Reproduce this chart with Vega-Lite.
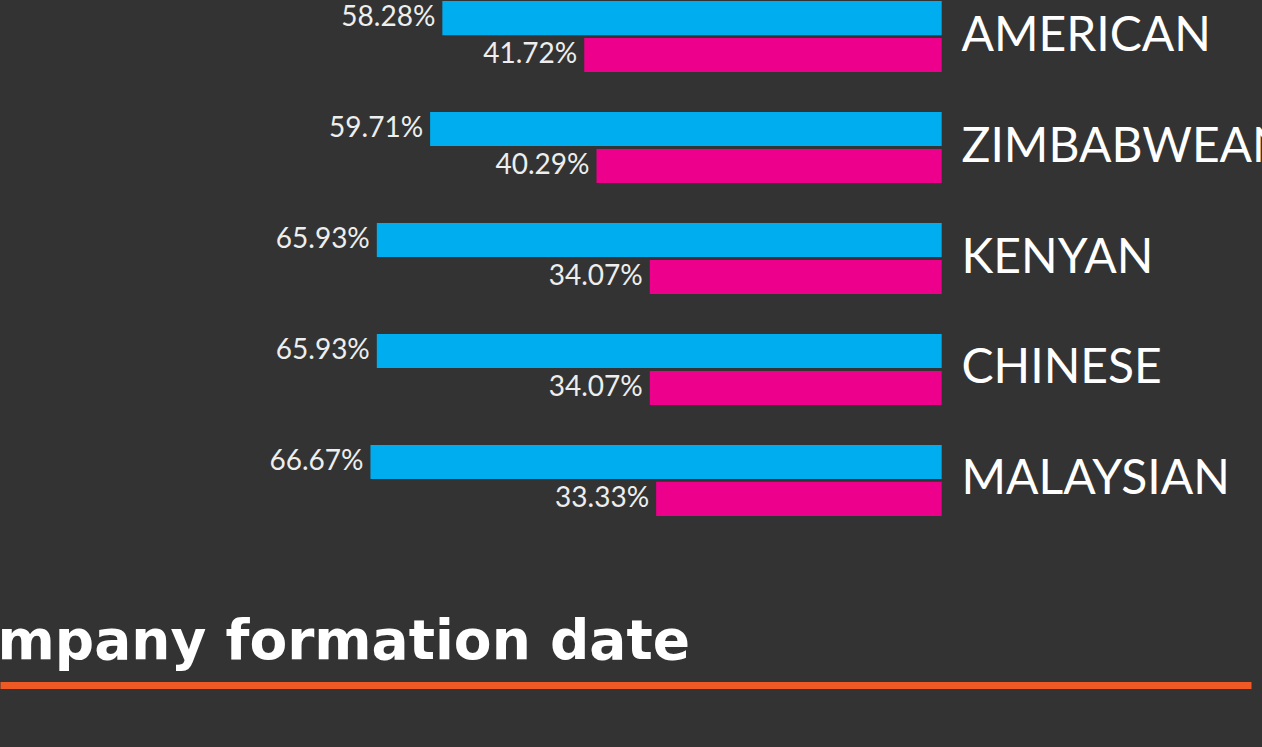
{
  "$schema": "https://vega.github.io/schema/vega-lite/v6.json",
  "autosize": "none",
  "padding": {"left": 0, "top": 0, "right": 11, "bottom": 230},
  "width": 1251,
  "height": 517,
  "background": "#333333",
  "config": {"view": {"stroke": null}},
  "data": {
    "values": [
      {"nationality": "AMERICAN", "series": "A", "value": 0.5828},
      {"nationality": "AMERICAN", "series": "B", "value": 0.4172},
      {"nationality": "ZIMBABWEAN", "series": "A", "value": 0.5971},
      {"nationality": "ZIMBABWEAN", "series": "B", "value": 0.4029},
      {"nationality": "KENYAN", "series": "A", "value": 0.6593},
      {"nationality": "KENYAN", "series": "B", "value": 0.3407},
      {"nationality": "CHINESE", "series": "A", "value": 0.6593},
      {"nationality": "CHINESE", "series": "B", "value": 0.3407},
      {"nationality": "MALAYSIAN", "series": "A", "value": 0.6667},
      {"nationality": "MALAYSIAN", "series": "B", "value": 0.3333}
    ]
  },
  "encoding": {
    "y": {
      "field": "nationality",
      "type": "nominal",
      "sort": null,
      "scale": {"paddingInner": 0.36, "paddingOuter": 0.01},
      "axis": {
        "orient": "right",
        "offset": -309,
        "domain": false,
        "ticks": false,
        "title": null,
        "labelPadding": 19,
        "labelFont": "Lato",
        "labelFontSize": 48,
        "labelColor": "#FFFFFF",
        "labelAlign": "left",
        "labelBaseline": "middle",
        "labelLimit": 0
      }
    },
    "yOffset": {
      "field": "series",
      "type": "nominal",
      "sort": ["A", "B"],
      "scale": {"paddingInner": 0.08, "paddingOuter": 0}
    },
    "x": {
      "field": "value",
      "type": "quantitative",
      "scale": {"domain": [-0.361, 1.0991], "reverse": true, "nice": false, "zero": true},
      "axis": {
        "orient": "bottom",
        "offset": 168,
        "domain": true,
        "domainColor": "#EF5A24",
        "domainWidth": 7,
        "ticks": false,
        "labels": false,
        "grid": false,
        "title": "mpany formation date",
        "titleX": -3,
        "titleY": -27,
        "titleAlign": "left",
        "titleAnchor": "start",
        "titleBaseline": "alphabetic",
        "titleAngle": 0,
        "titleFont": "DejaVu Sans",
        "titleFontSize": 55,
        "titleFontWeight": "bold",
        "titleColor": "#FFFFFF"
      }
    }
  },
  "layer": [
    {
      "mark": {"type": "bar"},
      "encoding": {
        "color": {
          "field": "series",
          "type": "nominal",
          "scale": {"domain": ["A", "B"], "range": ["#00AEEF", "#EC008C"]},
          "legend": null
        }
      }
    },
    {
      "mark": {
        "type": "text",
        "align": "right",
        "baseline": "middle",
        "dx": -7,
        "font": "Lato",
        "fontSize": 28,
        "color": "#EEEEEE"
      },
      "encoding": {
        "text": {"field": "value", "type": "quantitative", "format": ".2%"}
      }
    }
  ]
}
